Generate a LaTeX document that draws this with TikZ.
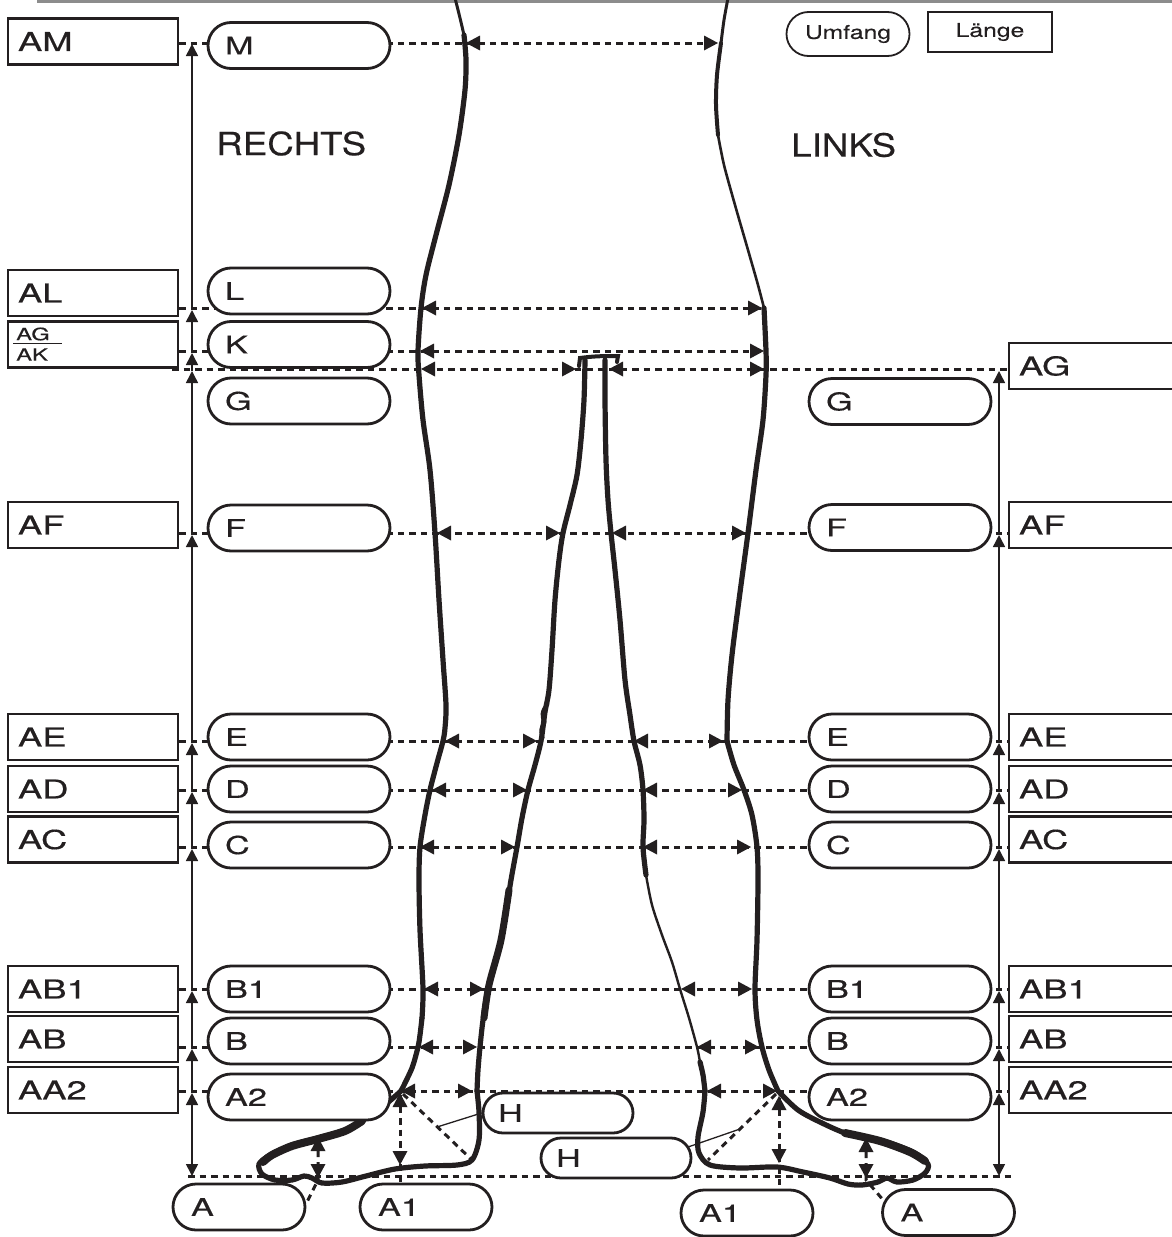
\documentclass[tikz,border=0pt]{standalone}
\usepackage{fontspec}
\setmainfont{TeX Gyre Heros}
\newfontfamily\wideff{TeX Gyre Heros}[FakeStretch=1.4,FakeBold=0.4]
\newfontfamily\midff{TeX Gyre Heros}[FakeStretch=1.15,FakeBold=0.3]
\newfontfamily\legff{TeX Gyre Heros}[FakeStretch=1.3,FakeBold=0.3]
\usetikzlibrary{arrows.meta,backgrounds}
\definecolor{ink}{HTML}{231F20}
\definecolor{barc}{HTML}{8C8C8C}
\begin{document}
\begin{tikzpicture}[x=1pt,y=-1pt,
  lbox/.style={draw=ink, line width=2.8pt, fill=white, rectangle, minimum width=170pt, minimum height=46pt,
    text width=150pt, inner xsep=10pt, inner ysep=0pt, align=left, text=ink, font=\wideff\fontsize{26}{26}\selectfont},
  pill/.style={draw=ink, line width=2.8pt, fill=white, rectangle, rounded corners=23pt, minimum width=182pt, minimum height=46pt,
    text width=148pt, inner xsep=17pt, inner ysep=0pt, align=left, text=ink, font=\wideff\fontsize{24.5}{24.5}\selectfont},
  apill/.style={pill, minimum width=132pt, text width=96pt, inner xsep=18pt},
  hpill/.style={pill, minimum width=150pt, minimum height=40pt, rounded corners=20pt, text width=120pt, inner xsep=15pt},
  dl/.style={draw=ink, line width=3pt, dash pattern=on 6.5pt off 5pt},
  vl/.style={draw=ink, line width=1.5pt},
  leg/.style={draw=ink, line width=5.2pt, line cap=round, line join=round},
  tl/.pic={\fill[ink] (0,0) -- (14,-7.5) -- (14,7.5) -- cycle;},
  tr/.pic={\fill[ink] (0,0) -- (-14,-7.5) -- (-14,7.5) -- cycle;},
  tu/.pic={\fill[ink] (0,0) -- (-7.5,14) -- (7.5,14) -- cycle;},
  td/.pic={\fill[ink] (0,0) -- (-7.5,-14) -- (7.5,-14) -- cycle;},
  vtip/.tip={Triangle[length=12pt,width=12pt]}
]
\useasboundingbox (0,0) rectangle (1171,1237);

% ---------- left boxes ----------
\node[lbox] (AM) at (93,41.5) {AM};
\node[lbox] (AL) at (93,293) {AL};
\node[lbox] (AGAK) at (93,344.5) {};
\node[lbox] (AF) at (93,525) {AF};
\node[lbox] (AE) at (93,737) {AE};
\node[lbox] (AD) at (93,789) {AD};
\node[lbox] (AC) at (93,839.5) {AC};
\node[lbox] (AB1) at (93,989) {AB1};
\node[lbox] (AB) at (93,1039) {AB};
\node[lbox] (AA2) at (93,1090) {AA2};
\node[anchor=west, inner sep=0pt, text=ink, font=\wideff\fontsize{17}{17}\selectfont] (agt) at (16,334) {AG};
\node[anchor=west, inner sep=0pt, text=ink, font=\wideff\fontsize{17}{17}\selectfont] (akt) at (16,354.5) {AK};
\draw[ink, line width=1.1pt] (13,343.5) -- (62,343.5);

% ---------- right boxes ----------
\node[lbox] (AGr) at (1094,366) {AG};
\node[lbox] (AFr) at (1094,525) {AF};
\node[lbox] (AEr) at (1094,737) {AE};
\node[lbox] (ADr) at (1094,789) {AD};
\node[lbox] (ACr) at (1094,839.5) {AC};
\node[lbox] (AB1r) at (1094,989) {AB1};
\node[lbox] (ABr) at (1094,1039) {AB};
\node[lbox] (AA2r) at (1094,1090) {AA2};

% ---------- left pills ----------
\node[pill] (M) at (299,45.5) {M};
\node[pill] (L) at (299,291) {L};
\node[pill] (K) at (299,344.5) {K};
\node[pill] (G) at (299,401) {G};
\node[pill] (F) at (299,528) {F};
\node[pill] (E) at (299,737) {E};
\node[pill] (D) at (299,789) {D};
\node[pill] (C) at (299,845) {C};
\node[pill] (B1) at (299,989) {B1};
\node[pill] (B) at (299,1041) {B};
\node[pill] (A2) at (299,1097) {A2};

% ---------- right pills ----------
\node[pill] (Gr) at (900,401.5) {G};
\node[pill] (Fr) at (900,527.5) {F};
\node[pill] (Er) at (900,737) {E};
\node[pill] (Dr) at (900,789) {D};
\node[pill] (Cr) at (900,845) {C};
\node[pill] (B1r) at (900,989) {B1};
\node[pill] (Br) at (900,1041) {B};
\node[pill] (A2r) at (900,1097) {A2};

% ---------- foot pills ----------
\node[apill] (Al) at (239,1207) {A};
\node[apill] (A1l) at (426,1207) {A1};
\node[apill] (A1r) at (747,1213) {A1};
\node[apill] (Ar) at (948.5,1212.5) {A};
\node[hpill] (Hu) at (558,1113) {H};
\node[hpill] (Hl) at (616,1158) {H};

% ---------- legend and titles ----------
\node[draw=ink, line width=1.8pt, rectangle, rounded corners=22pt, minimum width=123pt, minimum height=44pt, inner sep=0pt,
  text=ink, font=\legff\fontsize{19}{19}\selectfont] (umf) at (848,34) {Umfang};
\node[draw=ink, line width=1.8pt, rectangle, minimum width=124pt, minimum height=40pt, inner sep=0pt,
  text=ink, font=\legff\fontsize{19}{19}\selectfont] (lae) at (990,32) {Länge};
\node[anchor=west, inner sep=0pt, text=ink, font=\midff\fontsize{32}{32}\selectfont] (rechts) at (216,143.5) {RECHTS};
\node[anchor=west, inner sep=0pt, text=ink, font=\midff\fontsize{32}{32}\selectfont] (links) at (791,145) {LINKS};

\begin{scope}[on background layer]
% top bar
\fill[barc] (37,-1) rectangle (1180,3);

% ---------- dashed measurement lines ----------
\draw[dl] (AM.east |- 0,43) -- (718,43);
\draw[dl] (AL.east |- 0,308) -- (762,308);
\draw[dl] (AGAK.east |- 0,351) -- (764,351);
\draw[dl] (172,369) -- (AGr.west |- 0,369);
\foreach \l/\r/\y in {AF/AFr/533, AE/AEr/741, AD/ADr/790, AC/ACr/847, AB1/AB1r/989, AB/ABr/1047, AA2/AA2r/1091}
  {\draw[dl] (\l.east |- 0,\y) -- (\r.west |- 0,\y);}
\draw[dl] (188,1176) -- (1015,1176);

% ---------- legs ----------
% left leg outer
\draw[leg, line width=3pt] plot[smooth] coordinates {(455,-2) (460,18) (464,35)};
\draw[leg] plot[smooth] coordinates {(464,35) (466,60) (465,90) (459,135) (449,185) (436,235) (426,275) (421,308) (418,351) (419,375) (423,420) (430,470) (435,533) (439,600) (443,660) (446,705) (445,728) (443,741) (437,763) (430,790) (425,815) (420,847) (419,880) (420,930) (423,989) (422,1018)};
\draw[leg] plot[smooth] coordinates {(422,1018) (420,1035) (418,1047) (412,1068) (401,1091)};
% left leg inner
\draw[leg] plot[smooth] coordinates {(585,360) (584,400) (581,440) (577,475) (570,505) (563,533) (559,560) (555,600) (552,650) (549,690) (545,712) (541,741) (535,765) (528,790) (522,818) (517,847) (511,880) (501,940) (488,989) (483,1020) (480,1047) (478,1070) (477,1091)};
\draw[leg, line width=7pt] plot[smooth] coordinates {(509,890) (501,940) (489,985) (484,1018)};
\draw[leg, line width=3.5pt] (548,704) .. controls (541,710) and (541,718) .. (545,722) .. controls (540,727) and (540,733) .. (543,738);
% crotch
\draw[ink, line width=4pt, line cap=round] (579,366) -- (580,358) .. controls (594,356) and (606,356) .. (618,356) -- (617,362);
% right leg inner
\draw[leg] plot[smooth] coordinates {(605,360) (605,400) (606,460) (608,500) (611,533) (615,570) (620,620) (625,680) (630,715) (634,741) (640,765) (643,790) (644,820) (643,847) (646,875)};
\draw[leg, line width=2.4pt] plot[smooth] coordinates {(646,875) (652,905) (662,935) (672,962) (680,989) (689,1018) (697,1047) (700,1062)};
\draw[leg] plot[smooth] coordinates {(700,1062) (703,1075) (705,1091)};
% right leg outer
\draw[leg, line width=3pt] plot[smooth] coordinates {(728,-2) (724,20) (721,43)};
\draw[leg, line width=4pt] plot[smooth] coordinates {(721,43) (717,75) (716,105) (718,135)};
\draw[leg, line width=2.6pt] plot[smooth] coordinates {(718,135) (724,165) (735,205) (748,250) (758,285) (764,308)};
\draw[leg] plot[smooth] coordinates {(764,308) (766,351) (766,375) (763,420) (756,470) (748,533) (739,600) (732,655) (728,700) (727,741)};
\draw[leg] plot[smooth] coordinates {(727,741) (734,765) (744,790) (752,815) (757,847) (758,880) (757,940) (755,989) (757,1020) (762,1047) (769,1070) (778,1091)};

% ---------- feet ----------
\draw[leg] plot[smooth] coordinates {(401,1091) (386,1104) (368,1117) (345,1130) (318,1138) (292,1145) (270,1155) (259,1164) (262,1174) (275,1180) (292,1180) (304,1176) (312,1178) (322,1183) (342,1182) (366,1176) (395,1169) (425,1166) (457,1165) (472,1160) (479,1140) (479,1112) (477,1091)};
\draw[leg, line width=8pt] plot[smooth] coordinates {(362,1121) (345,1131) (318,1139) (292,1146) (272,1155) (263,1162)};
\draw[leg] plot[smooth] coordinates {(705,1091) (703,1112) (698,1137) (699,1153) (710,1165) (740,1168) (777,1167) (803,1172) (830,1178) (848,1184) (862,1185) (878,1182) (887,1178) (897,1182) (913,1180) (925,1173) (928,1164) (913,1152) (880,1140) (848,1134) (822,1123) (798,1110) (778,1091)};
\draw[leg, line width=8pt] plot[smooth] coordinates {(845,1133) (880,1141) (910,1152) (925,1161)};

% ---------- arrow tips on horizontal lines ----------
\pic at (466,43) {tl}; \pic at (718,43) {tr};
\pic at (422,308) {tl}; \pic at (762,308) {tr};
\pic at (420,351) {tl}; \pic at (764,351) {tr};
\pic at (421,369) {tl}; \pic at (576,369) {tr}; \pic at (609,369) {tl}; \pic at (764,369) {tr};
\foreach \y/\a/\b/\c/\d in {533/437/560/612/746, 741/445/537/634/723, 790/432/527/643/742, 847/420/515/643/751, 989/424/484/681/752, 1047/419/477/697/759, 1091/401/472/707/777}
  {\pic at (\a,\y) {tl}; \pic at (\b,\y) {tr}; \pic at (\c,\y) {tl}; \pic at (\d,\y) {tr};}

% ---------- vertical length lines ----------
\draw[vl, vtip-vtip] (192,1176) -- (192,1093);
\foreach \lo/\hi in {1093/1049, 1049/991, 991/849, 849/792, 792/743, 743/535, 535/371, 371/353, 353/310, 310/44}
  {\draw[vl, -vtip] (192,\lo) -- (192,\hi);}
\draw[vl, vtip-vtip] (999,1176) -- (999,1093);
\foreach \lo/\hi in {1093/1049, 1049/991, 991/849, 849/792, 792/743, 743/535, 535/371}
  {\draw[vl, -vtip] (999,\lo) -- (999,\hi);}

% ---------- foot measurements ----------
\draw[dl] (400,1095) -- (A1l.north -| 400,0);
\pic at (400,1093) {tu}; \pic at (400,1165) {td};
\draw[dl] (318,1139) -- (318,1180) -- (306,1204);
\pic at (318,1137) {tu}; \pic at (318,1178) {td};
\draw[dl] (403,1094) -- (472,1160);
\coordinate (hul) at (437,1127);
\draw[ink, line width=1.3pt] (hul) -- (Hu.west);

\draw[dl] (779,1098) -- (A1r.north -| 779,0);
\pic at (779,1096) {tu}; \pic at (779,1163) {td};
\draw[dl] (866,1140) -- (866,1180) -- (884,1201);
\pic at (866,1138) {tu}; \pic at (866,1178) {td};
\coordinate (hrk) at (740,1129);
\coordinate (hrl) at (688,1147);
\draw[dl] (776,1094) -- (hrk) -- (708,1160);
\draw[ink, line width=1.3pt] (hrk) -- (hrl);
\end{scope}
\end{tikzpicture}
\end{document}
